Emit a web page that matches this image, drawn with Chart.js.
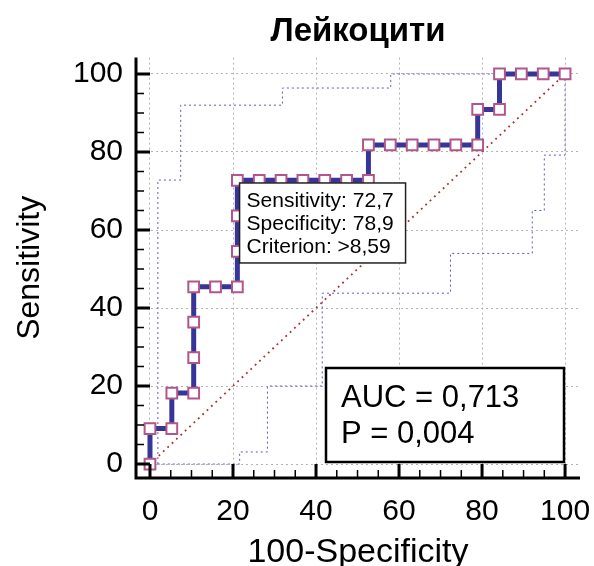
<!DOCTYPE html>
<html>
<head>
<meta charset="utf-8">
<title>Лейкоцити</title>
<script src="https://cdn.jsdelivr.net/npm/chart.js@4.4.1/dist/chart.umd.min.js"></script>
<style>
  html, body { margin: 0; padding: 0; background: #fff; }
</style>
</head>
<body>
<canvas id="chart" width="594" height="566"></canvas>
<script>
// ROC curve: 100-Specificity (x) vs Sensitivity (y)
const rocFpr  = [0, 0, 5.26, 5.26, 10.53, 10.53, 10.53, 10.53, 15.79, 21.05, 21.05, 21.05, 21.05,
                 26.32, 31.58, 36.84, 42.11, 47.37, 52.63, 52.63, 57.89, 63.16, 68.42, 73.68, 78.95,
                 78.95, 84.21, 84.21, 89.47, 94.74, 100];
const rocSens = [0, 9.09, 9.09, 18.18, 18.18, 27.27, 36.36, 45.45, 45.45, 45.45, 54.55, 63.64, 72.73,
                 72.73, 72.73, 72.73, 72.73, 72.73, 72.73, 81.82, 81.82, 81.82, 81.82, 81.82, 81.82,
                 90.91, 90.91, 100, 100, 100, 100];

// 95% confidence bounds
const upperFpr  = [1.9, 1.9, 7.4, 7.4, 31.9, 31.9, 58, 58, 100];
const upperSens = [0, 72.8, 72.8, 92, 92, 96.4, 96.4, 100, 100];
const lowerFpr  = [1.9, 21.6, 21.6, 28.3, 28.3, 41.5, 41.5, 72.4, 72.4, 92.1, 92.1, 95, 95, 100, 100];
const lowerSens = [0, 0, 3.1, 3.1, 20, 20, 43.8, 43.8, 54, 54, 65, 65, 79.2, 79.2, 100];

// chance line
const diagFpr  = [0, 100];
const diagSens = [0, 100];

const tickValues = [0, 20, 40, 60, 80, 100];
const minorStep = 5;

// summary
const sensitivity = 72.7;
const specificity = 78.9;
const criterion = '>8,59';
const aucText = '0,713';
const pText = '0,004';

const FONT = '"Liberation Sans", Arial, sans-serif';
const toPoints = (xs, ys) => xs.map((x, i) => ({ x: x, y: ys[i] }));

const rocFrame = {
  id: 'rocFrame',
  afterDatasetsDraw(chart) {
    const { ctx, scales: { x, y } } = chart;
    ctx.save();

    // criterion box, anchored at the cut-off point
    let bx = x.getPixelForValue(100 - specificity) + 2;
    let by = y.getPixelForValue(sensitivity) + 2.5;
    ctx.fillStyle = '#fff';
    ctx.fillRect(bx, by, 166, 80);
    ctx.strokeStyle = '#222';
    ctx.lineWidth = 1.5;
    ctx.strokeRect(bx, by, 166, 80);
    ctx.fillStyle = '#000';
    ctx.font = '21px ' + FONT;
    ctx.textBaseline = 'alphabetic';
    ctx.fillText('Sensitivity: ' + String(sensitivity).replace('.', ','), bx + 7, by + 24);
    ctx.fillText('Specificity: ' + String(specificity).replace('.', ','), bx + 7, by + 47);
    ctx.fillText('Criterion: ' + criterion, bx + 7, by + 70);

    // AUC box in the lower right corner
    const a = chart.chartArea;
    const w = 238, h = 94;
    bx = a.right - 16 - w;
    by = a.bottom - 16 - h;
    ctx.fillStyle = '#fff';
    ctx.fillRect(bx, by, w, h);
    ctx.strokeStyle = '#000';
    ctx.lineWidth = 2.5;
    ctx.strokeRect(bx, by, w, h);
    ctx.fillStyle = '#000';
    ctx.font = '31px ' + FONT;
    ctx.fillText('AUC = ' + aucText, bx + 15, by + 38.5);
    ctx.fillText('P = ' + pText, bx + 15, by + 75);
    ctx.restore();
  },
  afterDraw(chart) {
    const { ctx, chartArea: a, scales: { x, y } } = chart;
    ctx.save();
    ctx.strokeStyle = '#000';
    // axis lines
    ctx.lineWidth = 3;
    ctx.beginPath();
    ctx.moveTo(a.left, a.top);
    ctx.lineTo(a.left, a.bottom);
    ctx.moveTo(a.left - 1.5, a.bottom);
    ctx.lineTo(a.right, a.bottom);
    ctx.stroke();
    // inward ticks, long ones on the labelled values
    for (let v = tickValues[0]; v <= tickValues[tickValues.length - 1]; v += minorStep) {
      const major = tickValues.includes(v);
      const len = major ? 14 : 8;
      ctx.lineWidth = major ? 3 : 1.5;
      const px = x.getPixelForValue(v);
      const py = y.getPixelForValue(v);
      ctx.beginPath();
      ctx.moveTo(px, a.bottom);
      ctx.lineTo(px, a.bottom - len);
      ctx.moveTo(a.left, py);
      ctx.lineTo(a.left + len, py);
      ctx.stroke();
    }
    ctx.restore();
  }
};

const fixedTicks = scale => { scale.ticks = tickValues.map(v => ({ value: v })); };

new Chart(document.getElementById('chart').getContext('2d'), {
  type: 'scatter',
  data: {
    datasets: [
      {
        label: 'ROC',
        data: toPoints(rocFpr, rocSens),
        showLine: true,
        borderColor: '#36369a',
        borderWidth: 5,
        pointStyle: 'rect',
        pointRadius: 7.6,
        pointBorderWidth: 2,
        pointBorderColor: '#b2568a',
        pointBackgroundColor: '#fff'
      },
      {
        label: 'Chance',
        data: toPoints(diagFpr, diagSens),
        showLine: true,
        borderColor: '#a83030',
        borderWidth: 1.8,
        borderDash: [1.8, 4.2],
        pointRadius: 0
      },
      {
        label: 'Upper 95% CI',
        data: toPoints(upperFpr, upperSens),
        showLine: true,
        borderColor: '#5a5ac4',
        borderWidth: 1,
        borderDash: [2, 3],
        pointRadius: 0
      },
      {
        label: 'Lower 95% CI',
        data: toPoints(lowerFpr, lowerSens),
        showLine: true,
        borderColor: '#5a5ac4',
        borderWidth: 1,
        borderDash: [2, 3],
        pointRadius: 0
      }
    ]
  },
  options: {
    responsive: false,
    animation: false,
    layout: { padding: { right: 14 } },
    plugins: {
      legend: { display: false },
      tooltip: { enabled: false },
      title: {
        display: true,
        text: 'Лейкоцити',
        fullSize: false,
        color: '#000',
        font: { family: FONT, size: 33, weight: 'bold' },
        padding: { top: 12, bottom: 6 }
      }
    },
    scales: {
      x: {
        type: 'linear',
        min: -3.37,
        max: 103.6,
        afterBuildTicks: fixedTicks,
        afterFit: s => { s.height = 88; s.paddingLeft = 0; s.paddingRight = 0; },
        grid: { color: '#b4b4b4', lineWidth: 1, drawTicks: false },
        border: { display: false, dash: [2, 3] },
        ticks: { color: '#000', font: { family: FONT, size: 30 }, padding: 16, maxRotation: 0 },
        title: {
          display: true,
          text: '100-Specificity',
          color: '#000',
          font: { family: FONT, size: 34 },
          padding: { top: 0, bottom: -7 }
        }
      },
      y: {
        type: 'linear',
        min: -3.58,
        max: 104.2,
        afterBuildTicks: fixedTicks,
        afterFit: s => { s.width = 136; s.paddingTop = 0; s.paddingBottom = 0; },
        grid: { color: '#b4b4b4', lineWidth: 1, drawTicks: false },
        border: { display: false, dash: [2, 3] },
        ticks: { color: '#000', font: { family: FONT, size: 30 }, padding: 13 },
        title: {
          display: true,
          text: 'Sensitivity',
          color: '#000',
          font: { family: FONT, size: 32 },
          padding: { top: 11, bottom: 0 }
        }
      }
    }
  },
  plugins: [rocFrame]
});
</script>
</body>
</html>
